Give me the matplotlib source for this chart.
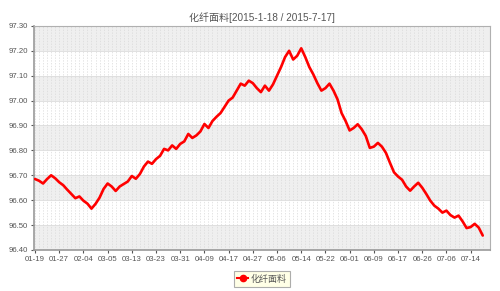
import matplotlib
matplotlib.use("Agg")
import matplotlib.pyplot as plt
from matplotlib.lines import Line2D

# values (one per trading day, 2015-01-19 .. 2015-07-17)
values = [
    96.685, 96.678, 96.667, 96.685, 96.700, 96.688, 96.672, 96.660, 96.642, 96.625,
    96.608, 96.615, 96.598, 96.586, 96.566, 96.585, 96.610, 96.645, 96.667, 96.655,
    96.637, 96.655, 96.665, 96.675, 96.697, 96.686, 96.705, 96.735, 96.755, 96.746,
    96.765, 96.778, 96.806, 96.800, 96.820, 96.806, 96.826, 96.836, 96.866, 96.850,
    96.860, 96.876, 96.906, 96.890, 96.918, 96.935, 96.950, 96.975, 97.000, 97.012,
    97.040, 97.068, 97.060, 97.080, 97.070, 97.050, 97.034, 97.060, 97.040, 97.065,
    97.100, 97.135, 97.175, 97.200, 97.165, 97.180, 97.210, 97.175, 97.135, 97.105,
    97.070, 97.040, 97.050, 97.068, 97.040, 97.005, 96.950, 96.918, 96.880, 96.890,
    96.905, 96.885, 96.858, 96.810, 96.815, 96.830, 96.815, 96.790, 96.750, 96.712,
    96.695, 96.682, 96.655, 96.638, 96.655, 96.670, 96.650, 96.625, 96.598, 96.578,
    96.566, 96.550, 96.558, 96.540, 96.530, 96.538, 96.515, 96.488, 96.492, 96.505,
    96.490, 96.458,
]
tick_labels = ["01-19", "01-27", "02-04", "03-05", "03-13", "03-23", "03-31",
               "04-09", "04-17", "04-27", "05-06", "05-14", "05-22", "06-01",
               "06-09", "06-17", "06-26", "07-06", "07-14"]
y_ticks = [96.40, 96.50, 96.60, 96.70, 96.80, 96.90, 97.00, 97.10, 97.20, 97.30]
series_name = "化纤面料"
title = "化纤面料[2015-1-18 / 2015-7-17]"

fonts = ["Liberation Sans", "Noto Sans CJK SC", "DejaVu Sans"]
plt.rcParams["font.family"] = fonts

fig = plt.figure(figsize=(5, 2.91), dpi=100)
ax = fig.add_axes([0.068, 0.141, 0.912, 0.770])

x = list(range(len(values)))
ax.set_xlim(-0.25, len(values) + 0.8)
ax.set_ylim(y_ticks[0], y_ticks[-1])

# alternating bands
for k in range(len(y_ticks) - 1):
    if (len(y_ticks) - 2 - k) % 2 == 0:
        ax.axhspan(y_ticks[k], y_ticks[k + 1], color="#efefef", lw=0, zorder=0)

# vertical dashed grid, one per point
for xi in x:
    ax.axvline(xi, color="#d9d9d9", lw=0.5, ls=(0, (2, 2)), zorder=1)
for yt in y_ticks:
    ax.axhline(yt, color="#dcdcdc", lw=0.6, zorder=1)

ax.plot(x, values, color="#ff0000", lw=1.9, solid_capstyle="round",
        solid_joinstyle="round", zorder=3)

ax.set_yticks(y_ticks)
ax.set_yticklabels([f"{v:.2f}" for v in y_ticks])
ax.set_xticks(x[::6][:len(tick_labels)])
ax.set_xticklabels(tick_labels)
ax.tick_params(axis="both", labelsize=5.6, colors="#555555", length=2.5, width=0.8, pad=2)

for side in ["top", "right"]:
    ax.spines[side].set_color("#b0b0b0")
    ax.spines[side].set_linewidth(0.8)
for side in ["left", "bottom"]:
    ax.spines[side].set_color("#999999")
    ax.spines[side].set_linewidth(1.2)

fig.text(0.524, 0.94, title, ha="center", va="center", fontsize=7.2, color="#555555")

handle = Line2D([], [], color="#ff0000", lw=1.5, marker="o", markersize=4.5)
leg = ax.legend([handle], [series_name], loc="upper center",
                bbox_to_anchor=(0.5, -0.075), fontsize=6.5, frameon=True,
                handlelength=1.2, handletextpad=0.3, borderpad=0.35,
                fancybox=False)
leg.get_frame().set_facecolor("#ffffe0")
leg.get_frame().set_edgecolor("#999999")
leg.get_frame().set_linewidth(0.8)
for t in leg.get_texts():
    t.set_color("#555555")

fig.savefig("out.png", dpi=100)
